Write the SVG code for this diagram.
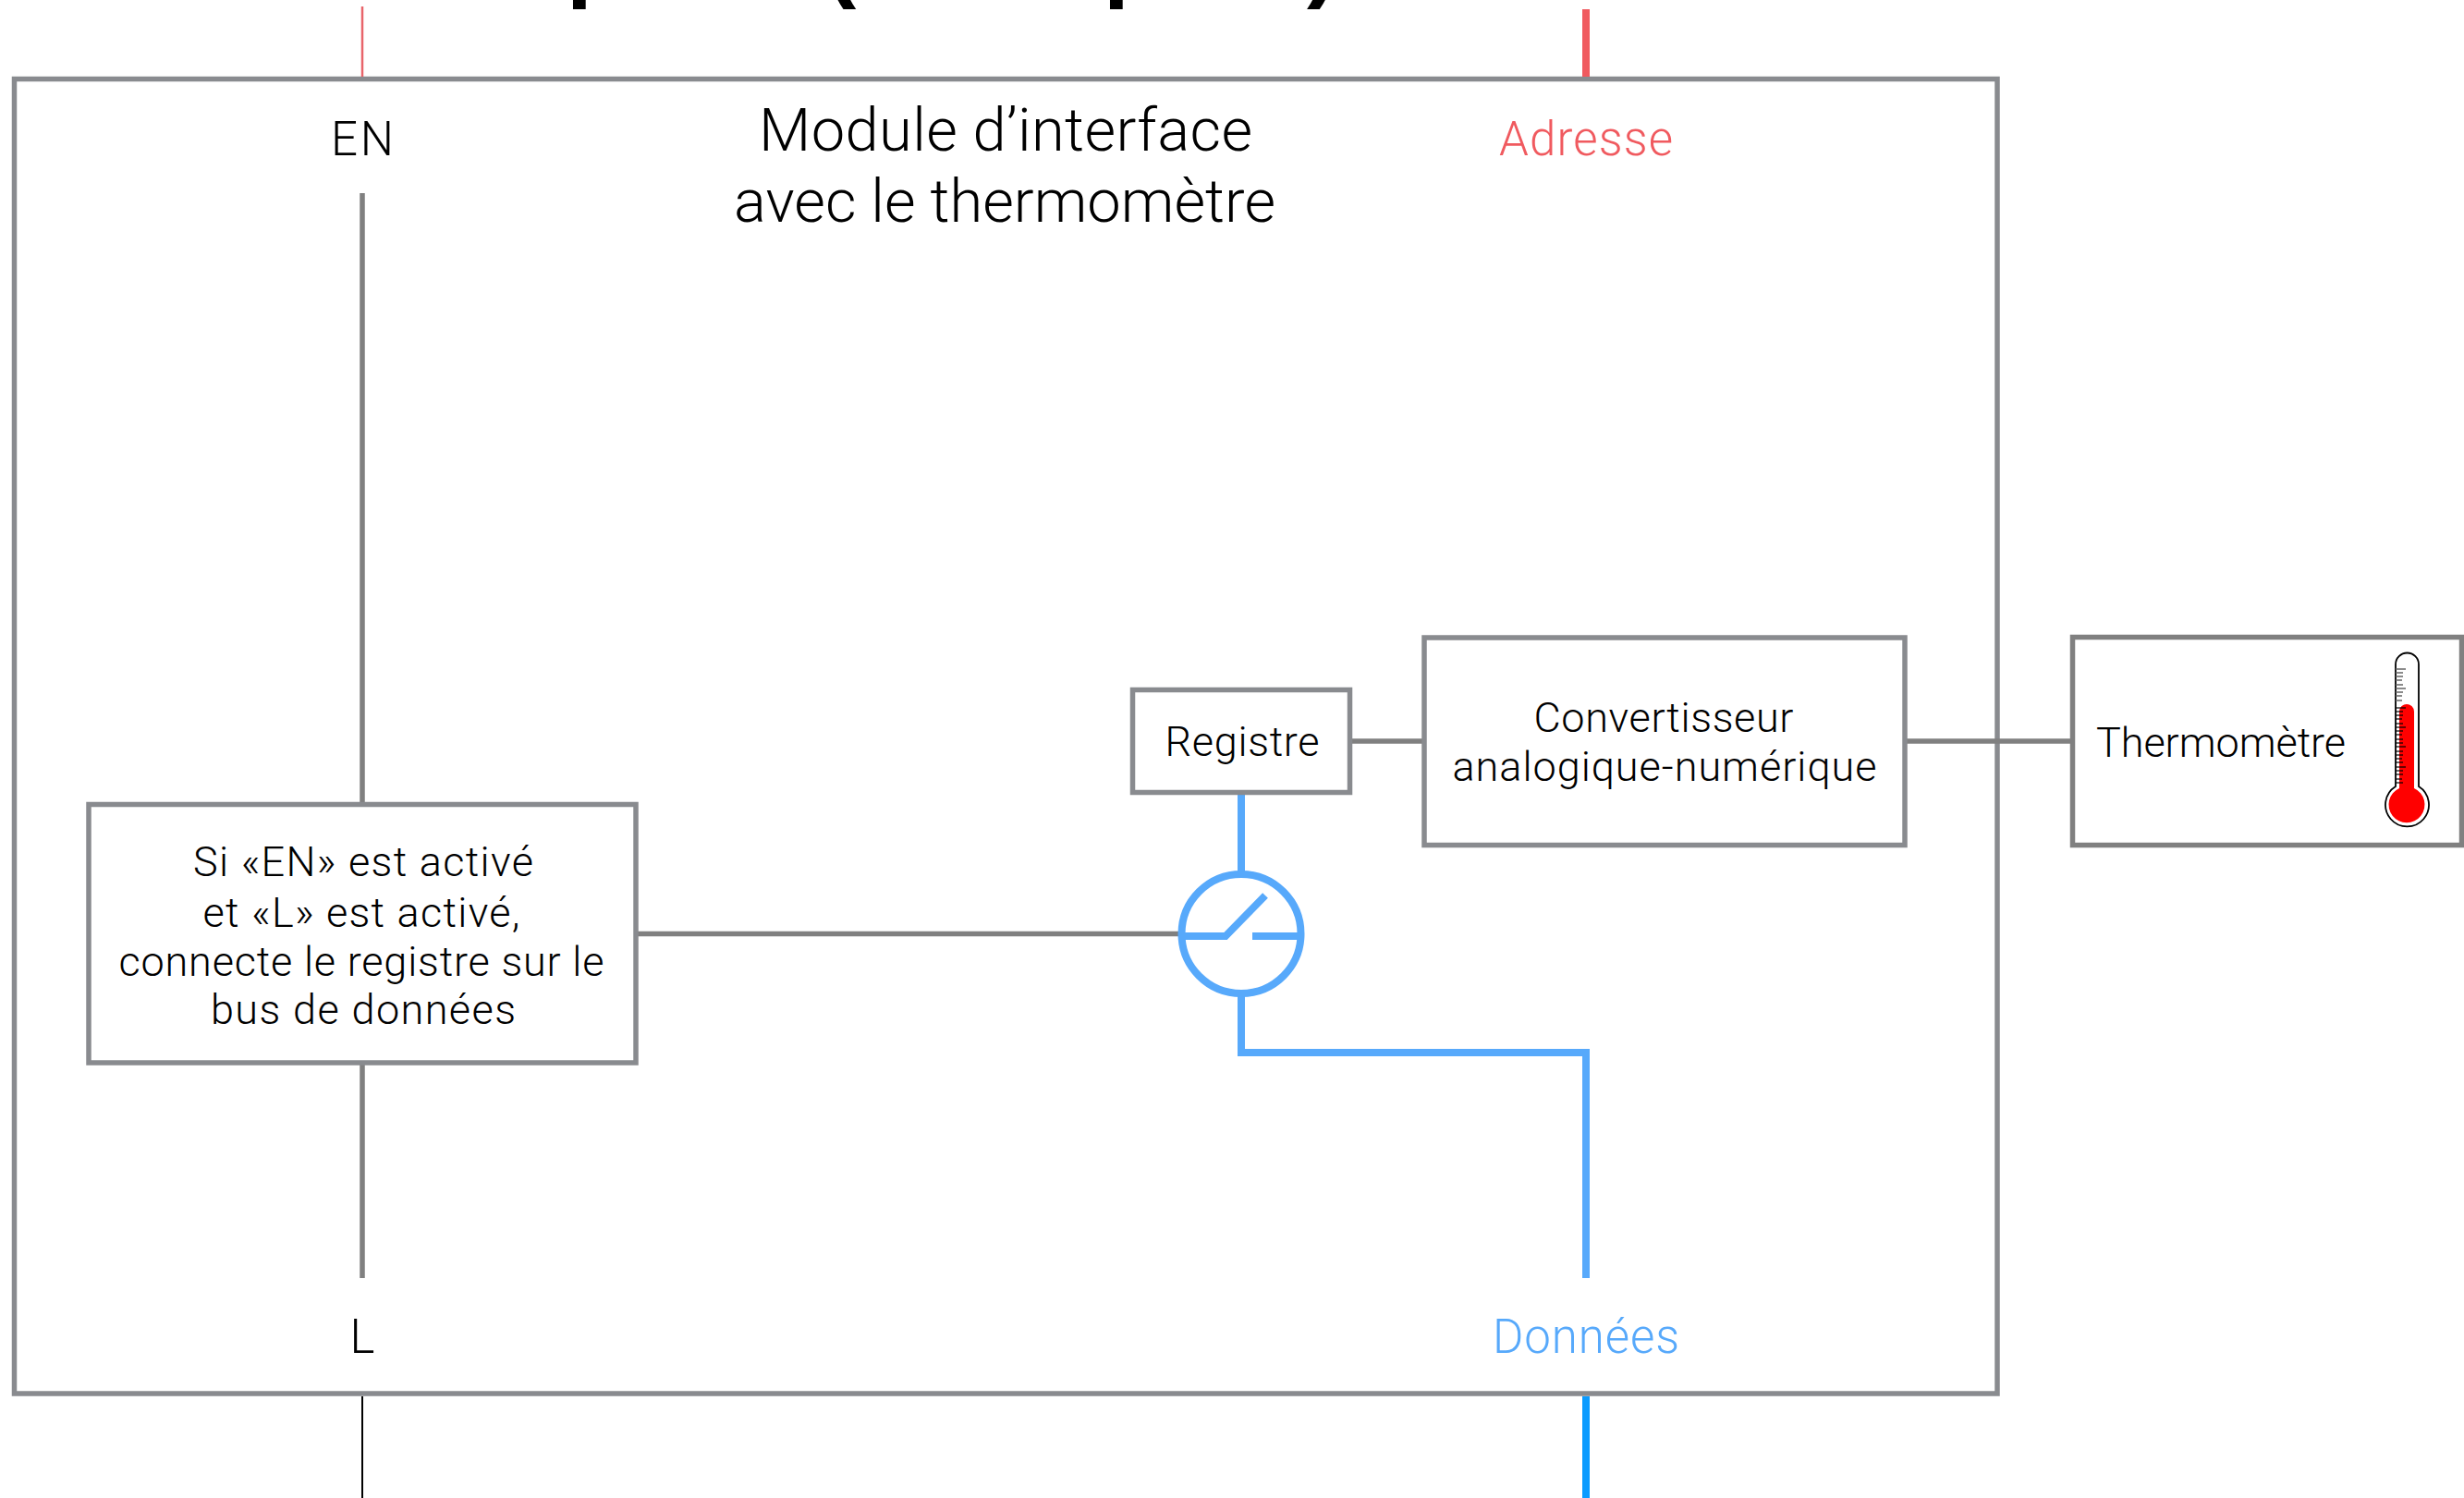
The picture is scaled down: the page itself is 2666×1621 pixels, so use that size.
<svg xmlns="http://www.w3.org/2000/svg" width="2666" height="1621" viewBox="0 0 2666 1621">
<style>
text{font-family:"Roboto","Liberation Sans",sans-serif;font-weight:300;fill:#000;text-anchor:middle}
.box{fill:#fff;stroke:#898b8f;stroke-width:5.5}
.g{fill:none;stroke:#808080;stroke-width:5.5}
.b{fill:none;stroke:#57a9fb;stroke-width:8}
.t{font-size:51px}
.s{font-size:45px}
.h{font-size:65px}
.c{font-family:"Liberation Sans",sans-serif;font-weight:700;font-size:100px;text-anchor:start}
</style>
<rect width="2666" height="1621" fill="#fff"/>
<g id="title-fragments">
<text class="c" x="613" y="-11">p</text>
<text class="c" x="893" y="-11">(</text>
<text class="c" x="1194" y="-11">p</text>
<text class="c" x="1414" y="-11">)</text>
</g>
<g id="module">
<rect class="box" x="15.5" y="85.5" width="2145.500" height="1422.500"/>
<text class="h" x="1088" y="163" textLength="534">Module d’interface</text>
<text class="h" x="1087" y="240" textLength="586">avec le thermomètre</text>
</g>
<g id="connectors">
<path d="M392 7V83" fill="none" stroke="#e8646a" stroke-width="2.5"/>
<path d="M1716 10V83" fill="none" stroke="#f05a5f" stroke-width="8"/>
<path d="M392 1511V1621" fill="none" stroke="#000" stroke-width="2"/>
<path d="M1716 1511V1621" fill="none" stroke="#0a9bff" stroke-width="8"/>
<path class="g" d="M392 209V870M392 1150V1383M689 1010.500H1278M1463 802H1540M2063 802H2242"/>
<path class="b" d="M1343 859V946M1343 1076V1139H1716V1383"/>
</g>
<g id="label-en"><text class="t" x="392" y="168" textLength="68">EN</text></g>
<g id="label-adresse"><text class="t" x="1716" y="168" textLength="188" style="fill:#f05a5f">Adresse</text></g>
<g id="label-l"><text class="t" x="392" y="1464">L</text></g>
<g id="label-donnees"><text class="t" x="1716" y="1464" textLength="202" style="fill:#57a9fb">Données</text></g>
<g id="logic">
<rect class="box" x="96" y="870.500" width="592" height="279.500"/>
<text class="s" x="393" y="948" textLength="368">Si «EN» est activé</text>
<text class="s" x="391" y="1003" textLength="343">et «L» est activé,</text>
<text class="s" x="391" y="1056" textLength="525">connecte le registre sur le</text>
<text class="s" x="393" y="1108" textLength="330">bus de données</text>
</g>
<g id="registre">
<rect class="box" x="1225.500" y="746.500" width="235" height="111"/>
<text class="s" x="1344" y="818" textLength="167">Registre</text>
</g>
<g id="convertisseur">
<rect class="box" x="1541" y="690" width="520" height="224.500"/>
<text class="s" x="1800" y="792" textLength="281">Convertisseur</text>
<text class="s" x="1801" y="845" textLength="459">analogique-numérique</text>
</g>
<g id="switch">
<circle class="b" cx="1343" cy="1010.500" r="64.500"/>
<path class="b" d="M1279 1013H1326L1369 969M1355 1013H1407"/>
</g>
<g id="thermometre">
<rect x="2242.500" y="689.500" width="421" height="225" fill="#fff" stroke="#808080" stroke-width="5.500"/>
<text class="s" x="2403" y="819" textLength="270">Thermomètre</text>
<path d="M2592 851V719a12.500 12.500 0 0 1 25 0V851a23.500 23.500 0 1 1-25 0Z" fill="#fff" stroke="#000" stroke-width="1.800"/>
<path d="M2592 724h11M2592 728h8M2592 732h8M2592 736h7M2592 741h8M2592 745h11M2592 749h8M2592 753h7M2592 758h7" stroke="#666" stroke-width="1.500" fill="none"/>
<path d="M2596 770a8 8 0 0 1 16 0V853a19.500 19.500 0 1 1-16 0Z" fill="#f00"/>
<path d="M2592 766h11M2592 770h8M2592 774h8M2592 778h7M2592 783h8M2592 787h11M2592 791h8M2592 795h7M2592 800h8M2592 804h8M2592 808h11M2592 813h8M2592 817h8M2592 821h7M2592 825h8M2592 830h11M2592 834h8M2592 838h8M2592 843h7M2592 847h8" stroke="#000" stroke-width="1.300" fill="none" opacity=".8"/>
</g>
</svg>
